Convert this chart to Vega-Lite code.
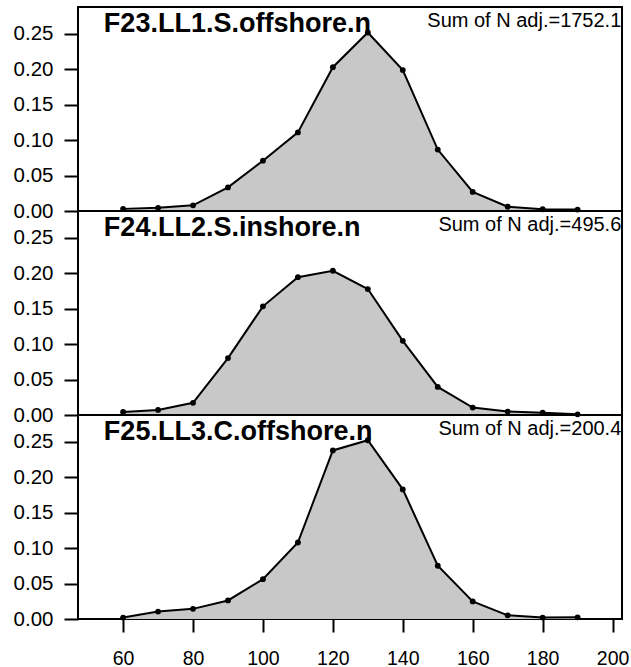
{
  "$schema": "https://vega.github.io/schema/vega-lite/v6.json",
  "autosize": {"type": "pad"},
  "padding": {"left": 12, "top": 6, "right": 5, "bottom": 5},
  "background": "white",
  "bounds": "flush",
  "config": {
    "view": {"stroke": "black", "strokeWidth": 2},
    "font": "Liberation Sans",
    "axis": {"grid": false, "domain": false, "tickColor": "black", "tickWidth": 2, "labelColor": "black", "labelFont": "Liberation Sans", "title": null}
  },
  "datasets": {
    "p1": [
      {"len": 60, "prop": 0.003}, {"len": 70, "prop": 0.0045}, {"len": 80, "prop": 0.008},
      {"len": 90, "prop": 0.0333}, {"len": 100, "prop": 0.071}, {"len": 110, "prop": 0.111},
      {"len": 120, "prop": 0.203}, {"len": 130, "prop": 0.252}, {"len": 140, "prop": 0.199},
      {"len": 150, "prop": 0.0867}, {"len": 160, "prop": 0.027}, {"len": 170, "prop": 0.006},
      {"len": 180, "prop": 0.0025}, {"len": 190, "prop": 0.002}
    ],
    "p2": [
      {"len": 60, "prop": 0.0043}, {"len": 70, "prop": 0.0072}, {"len": 80, "prop": 0.0172},
      {"len": 90, "prop": 0.0803}, {"len": 100, "prop": 0.1534}, {"len": 110, "prop": 0.1946},
      {"len": 120, "prop": 0.2036}, {"len": 130, "prop": 0.1778}, {"len": 140, "prop": 0.1047},
      {"len": 150, "prop": 0.0397}, {"len": 160, "prop": 0.0105}, {"len": 170, "prop": 0.0048},
      {"len": 180, "prop": 0.0033}, {"len": 190, "prop": 0.001}
    ],
    "p3": [
      {"len": 60, "prop": 0.002}, {"len": 70, "prop": 0.0105}, {"len": 80, "prop": 0.0143},
      {"len": 90, "prop": 0.0262}, {"len": 100, "prop": 0.0562}, {"len": 110, "prop": 0.108},
      {"len": 120, "prop": 0.238}, {"len": 130, "prop": 0.2524}, {"len": 140, "prop": 0.183},
      {"len": 150, "prop": 0.0752}, {"len": 160, "prop": 0.0248}, {"len": 170, "prop": 0.0052},
      {"len": 180, "prop": 0.002}, {"len": 190, "prop": 0.0024}
    ]
  },
  "spacing": 0,
  "vconcat": [
    {
      "width": 544, "height": 204,
      "layer": [
        {"data": {"name": "p1"}, "mark": {"type": "area", "color": "#C8C8C8"},
         "encoding": {
           "x": {"field": "len", "type": "quantitative", "scale": {"domain": [47.1, 202.7], "nice": false, "zero": false}, "axis": null},
           "y": {"field": "prop", "type": "quantitative", "scale": {"domain": [0, 0.288], "nice": false},
                 "axis": {"values": [0, 0.05, 0.1, 0.15, 0.2, 0.25], "format": ".2f", "labelFontSize": 20.5, "tickSize": 14, "labelPadding": 11}}
         }},
        {"data": {"name": "p1"}, "mark": {"type": "line", "color": "black", "strokeWidth": 2},
         "encoding": {"x": {"field": "len", "type": "quantitative"}, "y": {"field": "prop", "type": "quantitative"}}},
        {"data": {"name": "p1"}, "mark": {"type": "point", "filled": true, "color": "black", "size": 34, "opacity": 1},
         "encoding": {"x": {"field": "len", "type": "quantitative"}, "y": {"field": "prop", "type": "quantitative"}}},
        {"data": {"values": [{"label": "F23.LL1.S.offshore.n"}]},
         "mark": {"type": "text", "align": "left", "baseline": "alphabetic", "fontWeight": "bold", "fontSize": 27, "color": "black"},
         "encoding": {"x": {"datum": 54.5}, "y": {"datum": 0.2527}, "text": {"field": "label"}}},
        {"data": {"values": [{"label": "Sum of N adj.=1752.1"}]},
         "mark": {"type": "text", "align": "right", "baseline": "alphabetic", "fontSize": 20, "color": "black"},
         "encoding": {"x": {"datum": 202.5}, "y": {"datum": 0.2598}, "text": {"field": "label"}}}
      ]
    },
    {
      "width": 544, "height": 204,
      "layer": [
        {"data": {"name": "p2"}, "mark": {"type": "area", "color": "#C8C8C8"},
         "encoding": {
           "x": {"field": "len", "type": "quantitative", "scale": {"domain": [47.1, 202.7], "nice": false, "zero": false}, "axis": null},
           "y": {"field": "prop", "type": "quantitative", "scale": {"domain": [0, 0.288], "nice": false},
                 "axis": {"values": [0, 0.05, 0.1, 0.15, 0.2, 0.25], "format": ".2f", "labelFontSize": 20.5, "tickSize": 14, "labelPadding": 11}}
         }},
        {"data": {"name": "p2"}, "mark": {"type": "line", "color": "black", "strokeWidth": 2},
         "encoding": {"x": {"field": "len", "type": "quantitative"}, "y": {"field": "prop", "type": "quantitative"}}},
        {"data": {"name": "p2"}, "mark": {"type": "point", "filled": true, "color": "black", "size": 34, "opacity": 1},
         "encoding": {"x": {"field": "len", "type": "quantitative"}, "y": {"field": "prop", "type": "quantitative"}}},
        {"data": {"values": [{"label": "F24.LL2.S.inshore.n"}]},
         "mark": {"type": "text", "align": "left", "baseline": "alphabetic", "fontWeight": "bold", "fontSize": 27, "color": "black"},
         "encoding": {"x": {"datum": 54.5}, "y": {"datum": 0.2527}, "text": {"field": "label"}}},
        {"data": {"values": [{"label": "Sum of N adj.=495.6"}]},
         "mark": {"type": "text", "align": "right", "baseline": "alphabetic", "fontSize": 20, "color": "black"},
         "encoding": {"x": {"datum": 202.5}, "y": {"datum": 0.2598}, "text": {"field": "label"}}}
      ]
    },
    {
      "width": 544, "height": 204,
      "layer": [
        {"data": {"name": "p3"}, "mark": {"type": "area", "color": "#C8C8C8"},
         "encoding": {
           "x": {"field": "len", "type": "quantitative", "scale": {"domain": [47.1, 202.7], "nice": false, "zero": false},
                 "axis": {"values": [60, 80, 100, 120, 140, 160, 180, 200], "labelFontSize": 19.5, "tickSize": 13, "labelPadding": 17}},
           "y": {"field": "prop", "type": "quantitative", "scale": {"domain": [0, 0.288], "nice": false},
                 "axis": {"values": [0, 0.05, 0.1, 0.15, 0.2, 0.25], "format": ".2f", "labelFontSize": 20.5, "tickSize": 14, "labelPadding": 11}}
         }},
        {"data": {"name": "p3"}, "mark": {"type": "line", "color": "black", "strokeWidth": 2},
         "encoding": {"x": {"field": "len", "type": "quantitative"}, "y": {"field": "prop", "type": "quantitative"}}},
        {"data": {"name": "p3"}, "mark": {"type": "point", "filled": true, "color": "black", "size": 34, "opacity": 1},
         "encoding": {"x": {"field": "len", "type": "quantitative"}, "y": {"field": "prop", "type": "quantitative"}}},
        {"data": {"values": [{"label": "F25.LL3.C.offshore.n"}]},
         "mark": {"type": "text", "align": "left", "baseline": "alphabetic", "fontWeight": "bold", "fontSize": 27, "color": "black"},
         "encoding": {"x": {"datum": 54.5}, "y": {"datum": 0.2527}, "text": {"field": "label"}}},
        {"data": {"values": [{"label": "Sum of N adj.=200.4"}]},
         "mark": {"type": "text", "align": "right", "baseline": "alphabetic", "fontSize": 20, "color": "black"},
         "encoding": {"x": {"datum": 202.5}, "y": {"datum": 0.2598}, "text": {"field": "label"}}}
      ]
    }
  ]
}
